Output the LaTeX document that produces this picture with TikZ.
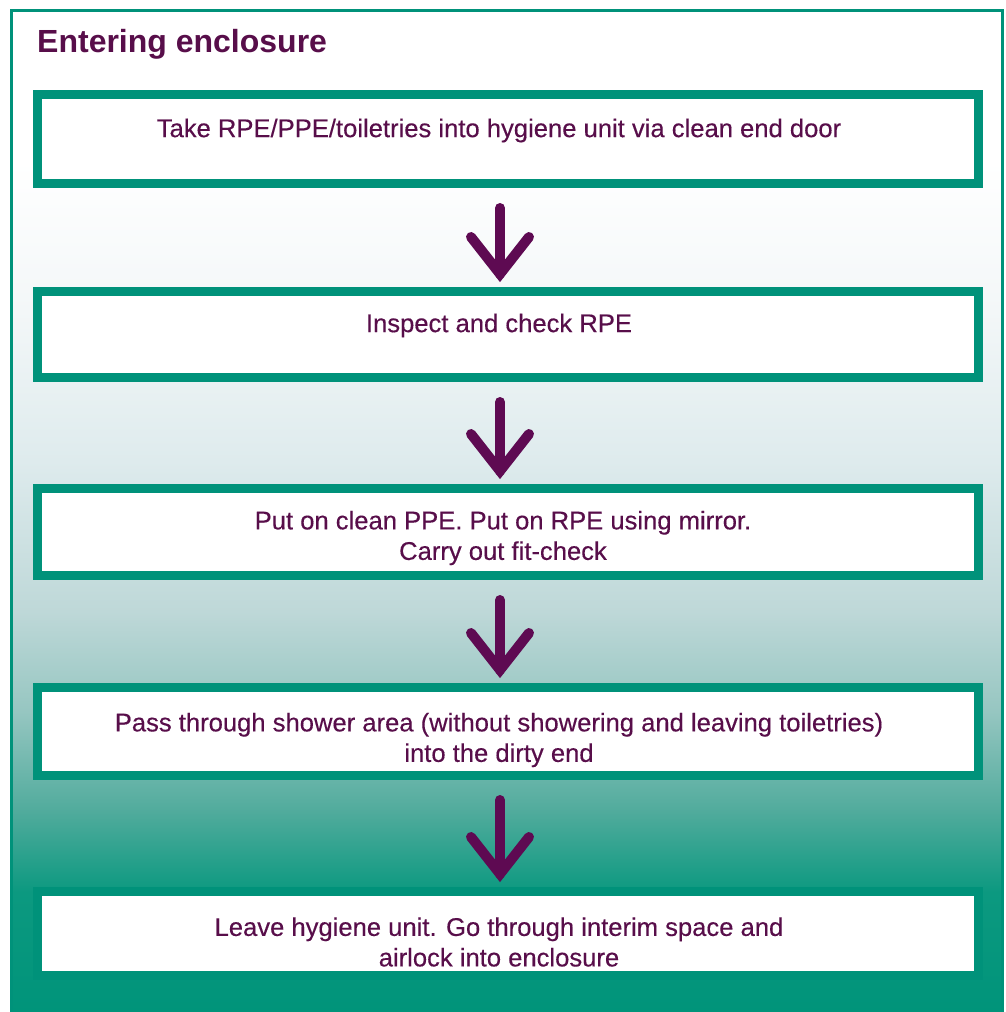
\documentclass[tikz,border=0pt]{standalone}
\usepackage{fontspec}
\setmainfont{Liberation Sans}
\usetikzlibrary{calc}
\definecolor{teal1}{RGB}{0,146,122}
\definecolor{plum}{RGB}{88,14,74}
\definecolor{arrowc}{RGB}{94,10,82}
\definecolor{sA}{RGB}{0,148,122}
\definecolor{sB}{RGB}{12,153,128}
\definecolor{sC}{RGB}{80,171,156}
\definecolor{sD}{RGB}{150,198,193}
\definecolor{sE}{RGB}{190,216,216}
\definecolor{sF}{RGB}{222,235,237}
\definecolor{sG}{RGB}{243,247,248}
\pgfdeclareverticalshading{bgshade}{100bp}{color(0bp)=(sA); color(25bp)=(sA); color(31bp)=(sB); color(35bp)=(sC); color(40bp)=(sD); color(45bp)=(sE); color(52.5bp)=(sF); color(60bp)=(sG); color(67.5bp)=(white); color(100bp)=(white)}
\tikzset{
  stepbox/.style={draw=teal1, line width=9pt, fill=white, minimum width=941pt, inner sep=0pt},
  steptext/.style={text=plum, font=\fontsize{25.6}{30.5}\selectfont\addfontfeature{FakeBold=0.3}, align=center, inner sep=0pt},
  titletext/.style={text=plum, font=\fontsize{32}{38}\selectfont\bfseries, inner sep=0pt, anchor=base west},
  flowarrow/.style={draw=arrowc, line width=10pt, line cap=round, line join=miter},
}
\begin{document}
\begin{tikzpicture}[x=1pt,y=-1pt]
\useasboundingbox (0,0) rectangle (1006,1012);
\clip (0,0) rectangle (1006,1012);
\fill[white] (0,0) rectangle (1006,1012);
% background panel
\shade[shading=bgshade] (11.5,10.5) rectangle (1002.5,1012);
\draw[teal1, line width=3pt] (11.5,1020) -- (11.5,10.5) -- (1002.5,10.5) -- (1002.5,1020);
% title
\node[titletext] (title) at (37,52) {Entering enclosure};
% boxes
\node[stepbox, minimum height=89pt] (b1) at (508,139) {};
\node[stepbox, minimum height=86pt] (b2) at (508,334.5) {};
\node[stepbox, minimum height=87pt] (b3) at (508,532) {};
\node[stepbox, minimum height=88pt] (b4) at (508,731.5) {};
\node[stepbox, minimum height=84pt] (b5) at (508,933.5) {};
% texts
\node[steptext] (t1) at (499,130.5) {Take RPE/PPE/toiletries into hygiene unit via clean end door};
\node[steptext] (t2) at (499,325.5) {Inspect and check RPE};
\node[steptext] (t3) at (503,538) {Put on clean PPE. Put on RPE using mirror.\\Carry out fit-check};
\node[steptext] (t4) at (499,740) {Pass through shower area (without showering and leaving toiletries)\\into the dirty end};
\node[steptext] (t5) at (499,942) {Leave hygiene unit. Go through interim space and\hspace{7pt}\\airlock into enclosure};
% arrows
\foreach \a/\b in {b1/b2,b2/b3,b3/b4,b4/b5}{
  \draw[flowarrow] ([xshift=-8pt,yshift=-20pt]\a.south) -- ([xshift=-8pt,yshift=13pt]\b.north);
  \draw[flowarrow] ([xshift=-37pt,yshift=50pt]\b.north) -- ([xshift=-8pt,yshift=13pt]\b.north) -- ([xshift=21pt,yshift=50pt]\b.north);
}
\end{tikzpicture}
\end{document}
